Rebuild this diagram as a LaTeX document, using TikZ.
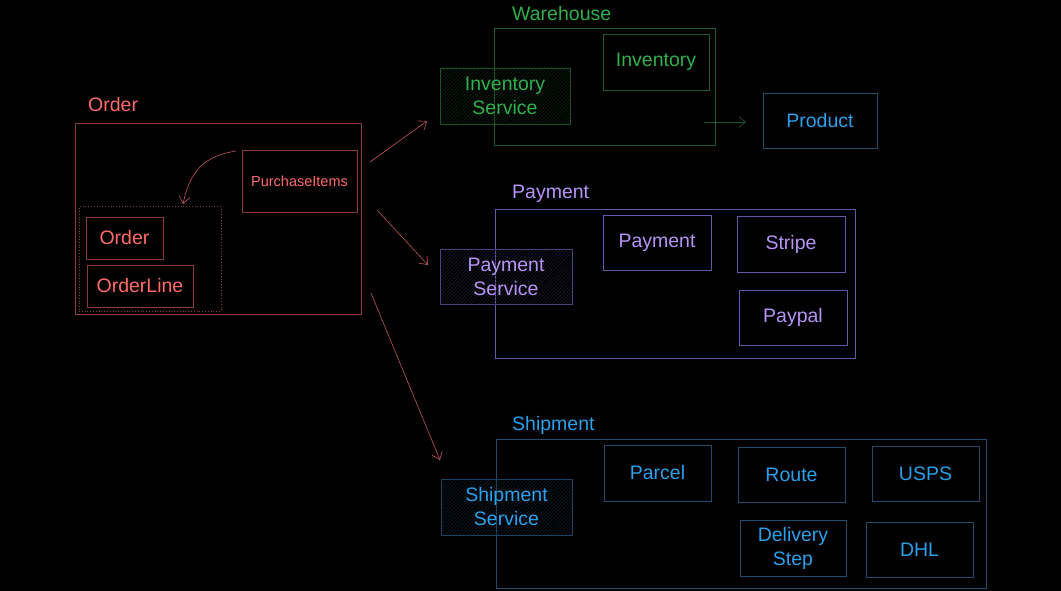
\documentclass[tikz,border=0pt]{standalone}
\usepackage{fontspec}
\setmainfont{Liberation Sans}
\usetikzlibrary{arrows.meta,patterns.meta}
\definecolor{redT}{HTML}{FF6B6B}
\definecolor{redB}{HTML}{8A3A3A}
\definecolor{redA}{HTML}{C45656}
\definecolor{greenT}{HTML}{2FB04C}
\definecolor{greenB}{HTML}{1B5C2C}
\definecolor{greenS}{HTML}{17502A}
\definecolor{greenH}{HTML}{0C2814}
\definecolor{purT}{HTML}{B794F6}
\definecolor{purB}{HTML}{6A56A8}
\definecolor{purS}{HTML}{4E4080}
\definecolor{purH}{HTML}{211B33}
\definecolor{bluT}{HTML}{2BA0EA}
\definecolor{bluB}{HTML}{1E4C6A}
\definecolor{bluS}{HTML}{1A4260}
\definecolor{bluH}{HTML}{0D2232}
\tikzset{
  bx/.style={draw, line width=0.8pt, inner sep=0pt, outer sep=0pt, align=center,
    font=\fontsize{19.5}{22}\selectfont},
  redbox/.style={bx, draw=redB, text=redT},
  grnbox/.style={bx, draw=greenB, text=greenT},
  purbox/.style={bx, draw=purB, text=purT},
  blubox/.style={bx, draw=bluB, text=bluT},
  hatch/.style={pattern={Lines[angle=45,distance=2.5pt,line width=0.5pt]}, pattern color=#1},
  ttl/.style={anchor=west, inner sep=0pt, font=\fontsize{19.5}{22}\selectfont},
  arr/.style={-{Straight Barb[length=7pt,width=11pt]}, line width=0.6pt},
}
\newcommand\mkbox[7][]{%
  \node[#7, #1, minimum width={#4-#2}, minimum height={#5-#3}] (#6) at ({(#2+#4)/2},{(#3+#5)/2})}
\begin{document}
\begin{tikzpicture}[x=1pt,y=-1pt]
\fill[black] (0,0) rectangle (1061,591);
\useasboundingbox (0,0) rectangle (1061,591);

% ---- Order ----
\node[ttl, text=redT] (ordtitle) at (88,105) {Order};
\mkbox{75}{123}{361}{314}{orderbox}{redbox} {};
\mkbox[font=\fontsize{14.5}{16}\selectfont]{242}{150}{357}{212}{pi}{redbox} {PurchaseItems};
\mkbox[dotted, line width=1pt]{79}{207}{221}{311}{lg}{redbox} {};
\mkbox{86}{217}{163}{259}{ord}{redbox} {Order};
\mkbox{87}{265}{193}{307}{ol}{redbox} {OrderLine};
\coordinate (cs) at (236,151);
\coordinate (ce) at (183,204);
\draw[arr, redA] (cs) .. controls (205,156) and (190,170) .. (ce);

% ---- Warehouse ----
\node[ttl, text=greenT] (whtitle) at (512,14) {Warehouse};
\mkbox{494}{28}{715}{145}{wh}{grnbox} {};
\mkbox{603}{34}{709}{90}{inv}{grnbox} {Inventory};
\mkbox[hatch=greenH, draw=greenS]{440}{68}{570}{124}{invs}{grnbox} {Inventory\\[2pt]Service};
\mkbox{763}{93}{877}{148}{prod}{blubox} {Product};
\coordinate (ga) at (704,122);
\coordinate (gb) at (746,122);
\draw[arr, greenB] (ga) -- (gb);

% ---- Payment ----
\node[ttl, text=purT] (paytitle) at (512,194) {Payment};
\mkbox{495}{209}{855}{358}{pay}{purbox} {};
\mkbox{603}{215}{711}{270}{payi}{purbox} {Payment};
\mkbox{737}{216}{845}{272}{stripe}{purbox} {Stripe};
\mkbox{739}{290}{847}{345}{paypal}{purbox} {Paypal};
\mkbox[hatch=purH, draw=purS]{440}{249}{572}{304}{pays}{purbox} {Payment\\[2pt]Service};

% ---- Shipment ----
\node[ttl, text=bluT] (shiptitle) at (512,425) {Shipment};
\mkbox{496}{439}{986}{588}{ship}{blubox} {};
\mkbox{604}{445}{711}{501}{parcel}{blubox} {Parcel};
\mkbox{738}{447}{845}{502}{route}{blubox} {Route};
\mkbox{872}{446}{979}{501}{usps}{blubox} {USPS};
\mkbox{740}{520}{846}{576}{dstep}{blubox} {Delivery\\[2pt]Step};
\mkbox{866}{522}{973}{577}{dhl}{blubox} {DHL};
\mkbox[hatch=bluH, draw=bluS]{441}{479}{572}{535}{ships}{blubox} {Shipment\\[2pt]Service};

% ---- arrows from Order ----
\coordinate (a1s) at (370,162);
\coordinate (a1e) at (427,121);
\coordinate (a2s) at (377,210);
\coordinate (a2e) at (428,265);
\coordinate (a3s) at (371,293);
\coordinate (a3e) at (440,460);
\draw[arr, redA] (a1s) -- (a1e);
\draw[arr, redA] (a2s) -- (a2e);
\draw[arr, redA] (a3s) -- (a3e);
\end{tikzpicture}
\end{document}
